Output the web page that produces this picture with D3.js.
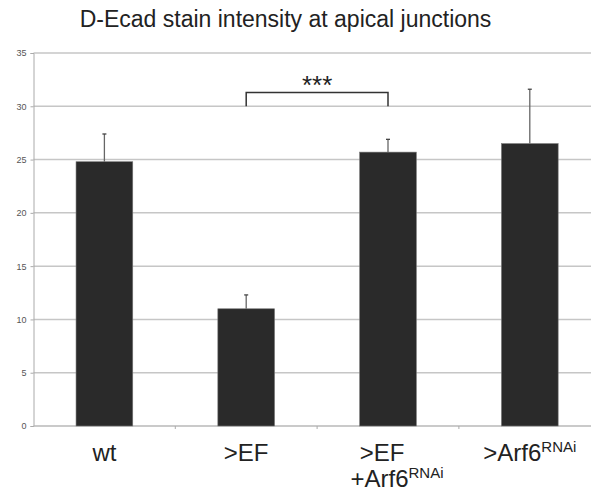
<!DOCTYPE html>
<html>
<head>
<meta charset="utf-8">
<script src="https://cdn.jsdelivr.net/npm/d3@7"></script>
<style>
  body { margin: 0; background: #fff; }
  svg { display: block; font-family: "Liberation Sans", Arial, sans-serif; }
</style>
</head>
<body>
<div id="chart"></div>
<script>
// Data
var categories = ['wt', '>EF', '>EF+Arf6', '>Arf6'];
var means = [24.8, 11.0, 25.7, 26.5];
var errors = [2.6, 1.3, 1.2, 5.1];
var yTicks = [0, 5, 10, 15, 20, 25, 30, 35];
// label lines: [main text, superscript]
var labelLines = [
    [['wt', '']],
    [['>EF', '']],
    [['>EF', ''], ['+Arf6', 'RNAi']],
    [['>Arf6', 'RNAi']]
];
var sigPair = ['>EF', '>EF+Arf6'];
var sigLevel = 31.3;
var sigBase = 30;
var sigLabel = '***';
var title = 'D-Ecad stain intensity at apical junctions';

var W = 591, H = 493;
var margin = {top: 53, left: 33.5, bottom: 67},
    plotRight = 600.7;

var svg = d3.select('#chart').append('svg')
    .attr('width', W)
    .attr('height', H);

var data = categories.map(function(c, i) {
    return {cat: c, mean: means[i], err: errors[i], lines: labelLines[i]};
});

var x = d3.scaleBand()
    .domain(categories)
    .range([margin.left, plotRight])
    .paddingInner(0.6)
    .paddingOuter(0.3);

var y = d3.scaleLinear()
    .domain([0, 35])
    .range([H - margin.bottom, margin.top]);

// gridlines
svg.append('g').selectAll('line')
    .data(yTicks.slice(1))
    .enter().append('line')
    .attr('x1', margin.left)
    .attr('x2', W)
    .attr('y1', function(d) { return y(d); })
    .attr('y2', function(d) { return y(d); })
    .attr('stroke', '#c6c6c6')
    .attr('stroke-width', 1.5);

// y axis
var yAxis = svg.append('g')
    .attr('transform', 'translate(' + margin.left + ',0)')
    .call(d3.axisLeft(y).tickValues(yTicks).tickSize(3).tickPadding(4));
yAxis.select('.domain').attr('stroke', '#aaa');
yAxis.selectAll('.tick line').attr('stroke', '#aaa');
yAxis.selectAll('.tick text')
    .attr('fill', '#555')
    .style('font-size', '9px')
    .style('font-family', '"Liberation Sans", Arial, sans-serif');

// x axis line with boundary ticks
svg.append('line')
    .attr('x1', margin.left).attr('x2', W)
    .attr('y1', y(0)).attr('y2', y(0))
    .attr('stroke', '#b8b8b8')
    .attr('stroke-width', 1.5);
svg.append('g').selectAll('line')
    .data(categories.slice(1))
    .enter().append('line')
    .attr('x1', function(d) { return x(d) - x.step() * x.paddingInner() / 2; })
    .attr('x2', function(d) { return x(d) - x.step() * x.paddingInner() / 2; })
    .attr('y1', y(0))
    .attr('y2', y(0) + 3)
    .attr('stroke', '#aaa');

// bars
svg.append('g').selectAll('rect')
    .data(data)
    .enter().append('rect')
    .attr('x', function(d) { return x(d.cat); })
    .attr('y', function(d) { return y(d.mean); })
    .attr('width', x.bandwidth())
    .attr('height', function(d) { return y(0) - y(d.mean); })
    .attr('fill', '#2a2a2a')
    .attr('stroke', '#777')
    .attr('stroke-width', 0.6);

// error bars (upper only)
var eb = svg.append('g').selectAll('g')
    .data(data)
    .enter().append('g');
eb.append('line')
    .attr('x1', function(d) { return x(d.cat) + x.bandwidth() / 2; })
    .attr('x2', function(d) { return x(d.cat) + x.bandwidth() / 2; })
    .attr('y1', function(d) { return y(d.mean); })
    .attr('y2', function(d) { return y(d.mean + d.err); })
    .attr('stroke', '#666')
    .attr('stroke-width', 1.3);
eb.append('line')
    .attr('x1', function(d) { return x(d.cat) + x.bandwidth() / 2 - 2; })
    .attr('x2', function(d) { return x(d.cat) + x.bandwidth() / 2 + 2; })
    .attr('y1', function(d) { return y(d.mean + d.err); })
    .attr('y2', function(d) { return y(d.mean + d.err); })
    .attr('stroke', '#444')
    .attr('stroke-width', 1.3);

// significance bracket
var bx1 = x(sigPair[0]) + x.bandwidth() / 2,
    bx2 = x(sigPair[1]) + x.bandwidth() / 2;
svg.append('path')
    .attr('d', 'M' + bx1 + ',' + y(sigBase) + 'V' + y(sigLevel) + 'H' + bx2 + 'V' + y(sigBase))
    .attr('fill', 'none')
    .attr('stroke', '#333')
    .attr('stroke-width', 1.5);
svg.append('text')
    .text(sigLabel)
    .attr('x', (bx1 + bx2) / 2)
    .attr('y', y(sigLevel) + 2)
    .attr('text-anchor', 'middle')
    .attr('font-size', '26px')
    .attr('fill', '#222');

// title
svg.append('text')
    .text(title)
    .attr('x', 285.5)
    .attr('y', 27)
    .attr('text-anchor', 'middle')
    .attr('font-size', '23px')
    .attr('fill', '#222');

// category labels
var lab = svg.append('g').selectAll('text')
    .data(data)
    .enter().append('text')
    .attr('text-anchor', 'middle')
    .attr('font-size', '24px')
    .attr('fill', '#222');
lab.each(function(d) {
    var t = d3.select(this);
    var cx = x(d.cat) + x.bandwidth() / 2;
    var multi = d.lines.length > 1;
    d.lines.forEach(function(ln, i) {
        var shift = multi ? (i === 0 ? -6 : 9) : 0;
        var g = t.append('tspan')
            .attr('x', cx + shift)
            .attr('y', 461 + i * 26);
        g.append('tspan').text(ln[0]);
        if (ln[1]) {
            g.append('tspan')
                .attr('dy', -9)
                .attr('font-size', '15px')
                .text(ln[1]);
        }
    });
});
</script>
</body>
</html>
